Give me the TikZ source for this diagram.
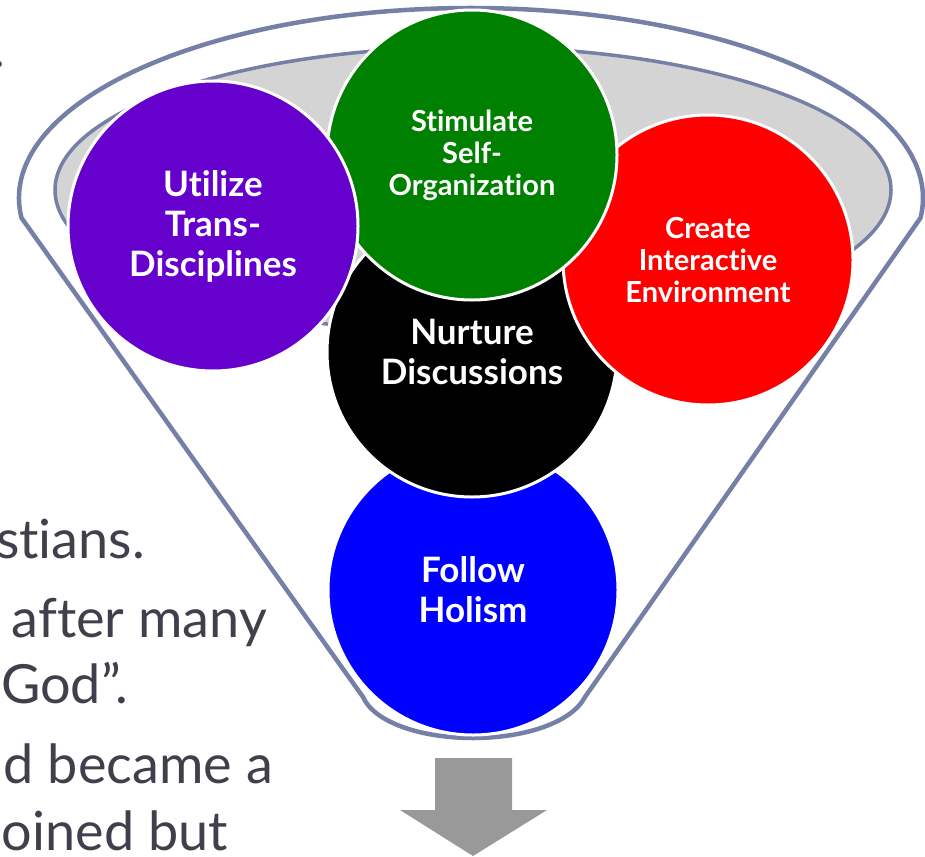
\documentclass[tikz,border=0pt]{standalone}
\usepackage{fontspec}
\setmainfont{Lato}[Ligatures=NoCommon]
\definecolor{rim}{RGB}{118,128,166}
\definecolor{bowl}{RGB}{212,212,212}
\definecolor{txtgray}{RGB}{64,64,76}
\definecolor{cpurple}{RGB}{102,0,204}
\definecolor{cgreen}{RGB}{0,128,0}
\definecolor{cred}{RGB}{255,0,0}
\definecolor{cblue}{RGB}{0,0,255}
\definecolor{arrowgray}{RGB}{153,153,153}
\tikzset{
  ball/.style={circle, draw=white, line width=3pt, minimum size=290pt, inner sep=0pt,
    text=white, align=center, font=\bfseries\fontsize{35}{40}\selectfont},
  smallball/.style={ball, font=\bfseries\fontsize{29}{32}\selectfont},
  lefttext/.style={anchor=base east, inner sep=0pt, text=txtgray, font=\fontsize{54}{66}\selectfont}
}
\begin{document}
\begin{tikzpicture}[x=1pt,y=-1pt]
\useasboundingbox (0,0) rectangle (925,856);
\clip (0,0) rectangle (925,856);
% left background text
\node[lefttext] (t0) at (5,68) {.};
\node[lefttext] (t1) at (145,558) {stians.};
\node[lefttext] (t2) at (267,637) {after many};
\node[lefttext] (t3) at (128,703) {God”.};
\node[lefttext] (t4) at (273,783) {d became a};
\node[lefttext] (t5) at (228,850) {oined but};
% funnel
\draw[rim, line width=4.5pt, fill=white, line join=round]
  (471,198) ++(174:452 and 190) coordinate (fl)
  arc[start angle=174, end angle=366, x radius=452, y radius=190]
  -- (585,697) .. controls (572,722) and (526,738) .. (473,738)
  .. controls (420,738) and (374,722) .. (363,697) -- cycle;
\draw[rim, line width=3.5pt, fill=bowl] (473,190) ellipse [x radius=418, y radius=143];
% circles
\node[ball, fill=cblue] (holism) at (473,590) {Follow\\Holism};
\node[ball, fill=black] (nurture) at (472,352) {Nurture\\Discussions};
\node[smallball, fill=cred] (create) at (708,260) {Create\\Interactive\\Environment};
\node[smallball, fill=cgreen] (stim) at (472,155) {Stimulate\\Self-\\Organization};
\node[ball, fill=cpurple] (util) at (213,226) {Utilize\\Trans-\\Disciplines};
% down arrow
\fill[arrowgray] (435,758) -- (512,758) -- (512,810) -- (547,810) -- (473,856)
  -- (400,810) -- (435,810) -- cycle;
\end{tikzpicture}
\end{document}
